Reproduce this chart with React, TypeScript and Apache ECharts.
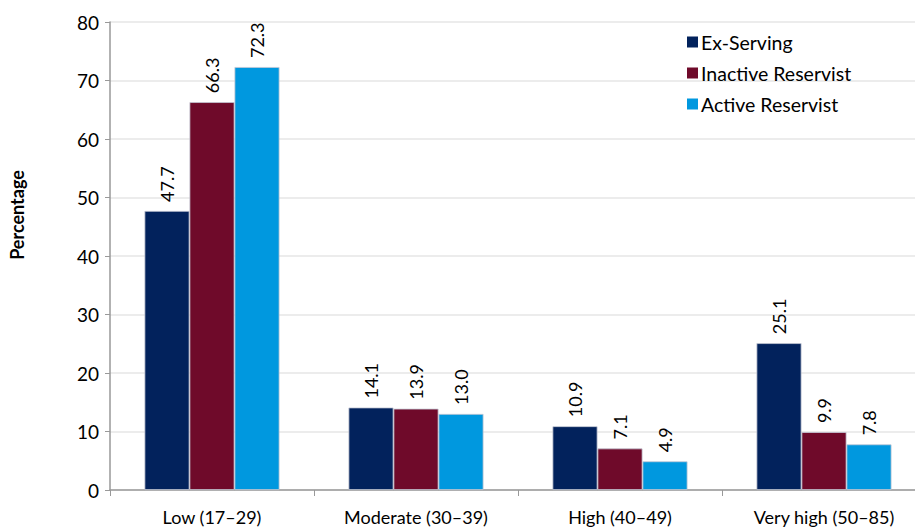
import React, { useEffect, useRef } from "react";
import * as echarts from "echarts";

const categories = ["Low (17–29)", "Moderate (30–39)", "High (40–49)", "Very high (50–85)"];
const exServing = [47.7, 14.1, 10.9, 25.1];
const inactiveReservist = [66.3, 13.9, 7.1, 9.9];
const activeReservist = [72.3, 13.0, 4.9, 7.8];
const seriesNames = ["Ex-Serving", "Inactive Reservist", "Active Reservist"];
const yAxisTitle = "Percentage";
const colors = ["#02225c", "#6f0a2a", "#0098df"];

const FONT = "Lato, 'Noto Sans', sans-serif";

export default function App() {
  const ref = useRef<HTMLDivElement>(null);
  useEffect(() => {
    document.body.style.margin = "0";
    const chart = echarts.init(ref.current!, null, { renderer: "svg" });
    const label = {
      show: true,
      position: "top",
      rotate: 90,
      align: "left",
      verticalAlign: "middle",
      distance: 9,
      fontSize: 18,
      fontFamily: FONT,
      color: "#000",
      formatter: (p: any) => Number(p.value).toFixed(1),
    };
    const datas = [exServing, inactiveReservist, activeReservist];
    chart.setOption({
      animation: false,
      grid: { left: 110, right: 0, top: 22, bottom: 38 },
      graphic: [
        {
          type: "text",
          x: 17,
          y: 215,
          rotation: Math.PI / 2,
          style: {
            text: yAxisTitle,
            fontSize: 18,
            fontWeight: "bold",
            fontFamily: FONT,
            fill: "#000",
            align: "center",
            verticalAlign: "middle",
          },
        },
      ],
      legend: {
        orient: "vertical",
        left: 682,
        top: 26,
        itemWidth: 11,
        itemHeight: 11,
        itemGap: 9,
        icon: "rect",
        itemStyle: { borderWidth: 0 },
        textStyle: { fontSize: 19.5, fontFamily: FONT, color: "#000", padding: [0, 0, 0, -2], lineHeight: 22 },
        data: seriesNames,
      },
      xAxis: {
        type: "category",
        data: categories,
        axisLine: { lineStyle: { color: "#999", width: 1.5 } },
        axisTick: { show: true, length: 6, lineStyle: { color: "#999" } },
        axisLabel: { fontSize: 18, fontFamily: FONT, color: "#000", margin: 18 },
      },
      yAxis: {
        type: "value",
        min: 0,
        max: 80,
        interval: 10,
        axisLine: { show: true, lineStyle: { color: "#999", width: 1.5 } },
        axisTick: { show: true, length: 5, lineStyle: { color: "#999" } },
        axisLabel: { fontSize: 19, fontFamily: FONT, color: "#000", margin: 11 },
        splitLine: { lineStyle: { color: "#e6e6e6", width: 1.5 } },
      },
      series: seriesNames.map((name, i) => ({
        name,
        type: "bar",
        data: datas[i],
        barWidth: 45,
        barGap: "0%",
        itemStyle: { color: colors[i], borderColor: "#c4c8d4", borderWidth: 0.8 },
        label,
      })),
    });
    return () => chart.dispose();
  }, []);
  return (
    <div style={{ width: 915, height: 528, overflow: "hidden", position: "relative" }}>
      <div ref={ref} style={{ width: 926, height: 528 }} />
    </div>
  );
}
